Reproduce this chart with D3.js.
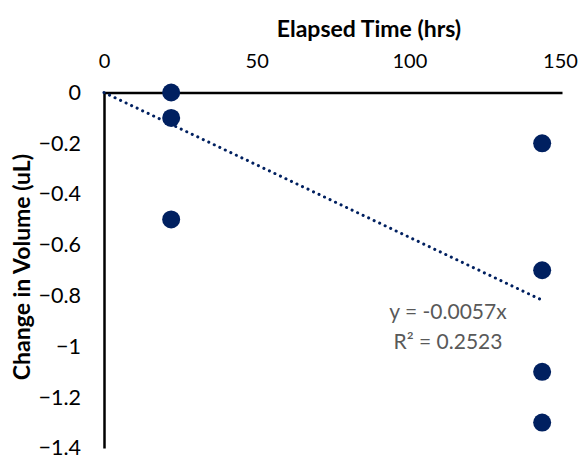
<!DOCTYPE html>
<html>
<head>
<meta charset="utf-8">
<script src="https://cdn.jsdelivr.net/npm/d3@7"></script>
<style>
  body { margin: 0; background: #fff; }
  text { font-family: Lato, "Open Sans", sans-serif; }
</style>
</head>
<body>
<svg id="chart" width="579" height="455"></svg>
<script>
// data
var hours = [22, 22, 22, 143.5, 143.5, 143.5, 143.5];
var volumeChange = [0, -0.1, -0.5, -0.2, -0.7, -1.1, -1.3];
var xTicks = [0, 50, 100, 150];
var yTicks = [0, -0.2, -0.4, -0.6, -0.8, -1, -1.2, -1.4];
var trendSlope = -0.0057;
var trendLabel = ["y = -0.0057x", "R\u00b2 = 0.2523"];

var svg = d3.select('#chart');
var navy = '#002060';

var x = d3.scaleLinear().domain([0, 150]).range([104, 562]);
var y = d3.scaleLinear().domain([0, -1.4]).range([92.5, 448]);

// x axis on top
var xAxis = d3.axisTop(x).tickValues(xTicks).tickSize(0).tickPadding(25);
var gx = svg.append('g').attr('transform', 'translate(0,' + y(0) + ')').call(xAxis);
gx.select('.domain').attr('stroke', '#000').attr('stroke-width', 2.5);
gx.selectAll('text').attr('font-size', 20).attr('fill', '#000')
  .style('font-family', 'Lato, sans-serif')
  .attr('dx', function(d) { return d === 150 ? -2 : 0; });

var yAxis = d3.axisLeft(y).tickValues(yTicks).tickSize(0).tickPadding(23)
  .tickFormat(function(d) { return d === 0 ? '0' : d3.format('')(+d.toFixed(1)); });
var gy = svg.append('g').attr('transform', 'translate(' + x(0) + ',0)').call(yAxis);
gy.select('.domain').attr('stroke', '#000').attr('stroke-width', 2.5);
gy.selectAll('text').attr('font-size', 21.5).attr('fill', '#000')
  .style('font-family', 'Lato, sans-serif');

// titles
svg.append('text').attr('x', 369).attr('y', 37).attr('text-anchor', 'middle')
  .attr('font-size', 23).attr('font-weight', 'bold').text('Elapsed Time (hrs)');
svg.append('text').attr('transform', 'translate(30,267) rotate(-90)')
  .attr('text-anchor', 'middle').attr('font-size', 23).attr('font-weight', 'bold')
  .text('Change in Volume (uL)');

// trend line
var xMax = d3.max(hours);
svg.append('line')
  .attr('x1', x(0)).attr('y1', y(0))
  .attr('x2', x(xMax)).attr('y2', y(trendSlope * xMax))
  .attr('stroke', navy).attr('stroke-width', 3)
  .attr('stroke-dasharray', '0.1 6').attr('stroke-linecap', 'round');

// points
svg.selectAll('circle.pt').data(hours).enter().append('circle')
  .attr('class', 'pt')
  .attr('cx', function(d) { return x(d); })
  .attr('cy', function(d, i) { return y(volumeChange[i]); })
  .attr('r', 9).attr('fill', navy);

// equation label
svg.selectAll('text.eq').data(trendLabel).enter().append('text')
  .attr('class', 'eq')
  .attr('x', 448).attr('y', function(d, i) { return 319 + i * 30; })
  .attr('text-anchor', 'middle').attr('font-size', 21).attr('fill', '#595959')
  .text(function(d) { return d; });
</script>
</body>
</html>
